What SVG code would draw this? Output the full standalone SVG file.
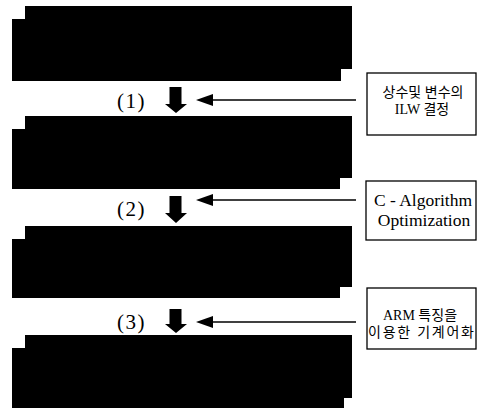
<svg xmlns="http://www.w3.org/2000/svg" width="479" height="410" viewBox="0 0 479 410">
<style>
.blk{fill:#000;}
.box{fill:#fff;stroke:#000;stroke-width:1.3;}
.t{font-family:"Liberation Serif","Noto Sans CJK KR",serif;font-size:14px;fill:#000;text-anchor:middle;}
.ts{font-family:"Liberation Serif",serif;font-size:17.5px;fill:#000;text-anchor:middle;}
.num{font-family:"Liberation Serif",serif;font-size:21px;fill:#000;letter-spacing:1.5px;}
.ln{stroke:#000;stroke-width:1.6;fill:none;}
.hd{fill:#000;}
</style>
<rect width="479" height="410" fill="#fff"/>
<g id="block1"><path class="blk" d="M25,6 H352 V69 H341 V81 H12 V19 H25 Z"/></g>
<g id="block2"><path class="blk" d="M25,116 H352 V178 H340 V189 H12 V129 H25 Z"/></g>
<g id="block3"><path class="blk" d="M25,226 H352 V287 H340 V298 H12 V239 H25 Z"/></g>
<g id="block4"><path class="blk" d="M25,335 H352 V398 H344 V408 H12 V348 H25 Z"/></g>
<g id="box1">
<rect class="box" x="367" y="73" width="109" height="62"/>
<text class="t" x="423" y="97">상수및 변수의</text>
<text class="t" x="422" y="114">ILW 결정</text>
</g>
<g id="box2">
<rect class="box" x="366" y="181" width="110" height="59"/>
<text class="ts" x="423" y="206">C - Algorithm</text>
<text class="ts" x="424" y="226">Optimization</text>
</g>
<g id="box3">
<rect class="box" x="367" y="288" width="109" height="61"/>
<text class="t" x="420" y="320">ARM 특징을</text>
<text class="t" x="421" y="337" textLength="106" lengthAdjust="spacing">이용한 기계어화</text>
</g>
<g id="connectors">
<path class="hd" d="M169.5,87 H181.5 V104 H187 L176,113 L165,104 H169.5 Z"/>
<path class="hd" d="M169.5,196 H181.5 V213 H187 L176,223 L165,213 H169.5 Z"/>
<path class="hd" d="M169.5,309 H181.5 V324 H187 L176,333 L165,324 H169.5 Z"/>
<line class="ln" x1="211" y1="100" x2="356" y2="100"/>
<path class="hd" d="M196,100 L213,94 L213,106 Z"/>
<line class="ln" x1="211" y1="200" x2="356" y2="200"/>
<path class="hd" d="M196,200 L213,194 L213,206 Z"/>
<line class="ln" x1="211" y1="322" x2="356" y2="322"/>
<path class="hd" d="M196,322 L213,316 L213,328 Z"/>
<text class="num" x="117" y="108">(1)</text>
<text class="num" x="117" y="216">(2)</text>
<text class="num" x="117" y="329">(3)</text>
</g>
</svg>
